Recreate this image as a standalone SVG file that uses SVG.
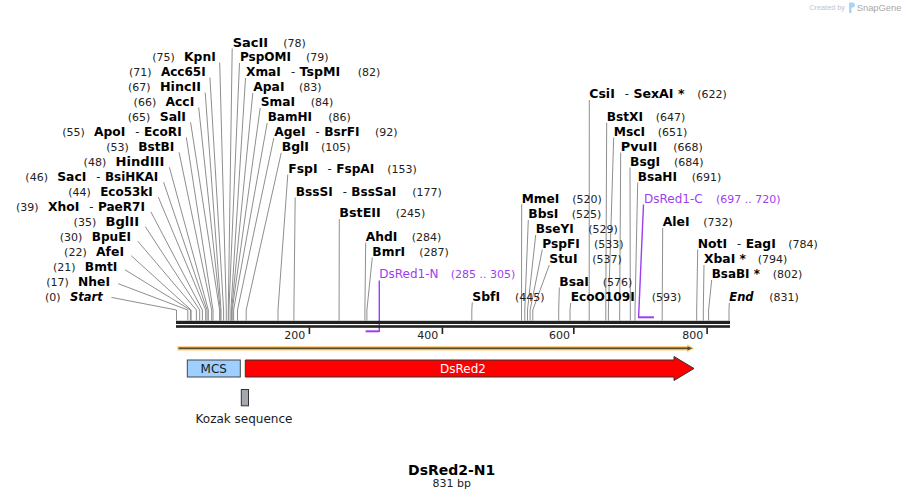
<svg xmlns="http://www.w3.org/2000/svg" width="906" height="500" viewBox="0 0 906 500">
<style>
text { font-family: "DejaVu Sans", Verdana, sans-serif; }
.b { font-weight: bold; font-size: 11.5px; fill: #000; }
.i { font-style: italic; }
.n { font-size: 11px; fill: #222; font-weight: normal; }
.dash { font-size: 11.5px; fill: #222; font-weight: normal; }
.p { fill: #9d3ef0; font-size: 12px; }
.pn { fill: #9d3ef0; font-size: 11px; }
.tk { font-size: 11px; fill: #222; }
.lbl { font-size: 12px; fill: #1a1a1a; }
.ln { fill: none; stroke: #8e8e8e; stroke-width: 1; }
.pl { fill: none; stroke: #9d3ef0; stroke-width: 1.4; }
.pbar { fill: none; stroke: #9d3ef0; stroke-width: 2; }
.bb { fill: #222; }
</style>

<g id="watermark">
<text x="809.3" y="9.8" style="font-family:'Liberation Sans',Arial,sans-serif;font-size:7.3px;fill:#c4c4c4">Created by</text>
<path d="M849,2.5 h3.3 a2.6,2.6 0 0 1 0,5.2 h-0.8 v5.3 h-2.5 z" fill="#a8d6f2"/>
<text x="856.7" y="10.6" style="font-family:'Liberation Sans',Arial,sans-serif;font-size:9.4px;fill:#a9a9a9">SnapGene</text>
</g>

<g id="connectors">
<polyline class="ln" points="111.4,297.4 176.5,310 176.5,320.5"/>
<polyline class="ln" points="118.2,283.7 187.8,310 187.8,320.5"/>
<polyline class="ln" points="125,269.8 190.4,310 190.4,320.5"/>
<polyline class="ln" points="131.2,255.7 191.1,310 191.1,320.5"/>
<polyline class="ln" points="137.8,241.2 196.4,310 196.4,320.5"/>
<polyline class="ln" points="145.3,226.6 199.7,310 199.7,320.5"/>
<polyline class="ln" points="150.9,211.9 202.4,310 202.4,320.5"/>
<polyline class="ln" points="158.3,197.1 205.7,310 205.7,320.5"/>
<polyline class="ln" points="163.6,182.2 207,310 207,320.5"/>
<polyline class="ln" points="169.4,167.3 208.3,310 208.3,320.5"/>
<polyline class="ln" points="179.1,152.4 211.7,310 211.7,320.5"/>
<polyline class="ln" points="186.3,137.4 213,310 213,320.5"/>
<polyline class="ln" points="190.6,122.4 219.6,310 219.6,320.5"/>
<polyline class="ln" points="198.7,107.5 220.3,310 220.3,320.5"/>
<polyline class="ln" points="205.2,92.5 221,310 221,320.5"/>
<polyline class="ln" points="209.9,77.5 223.6,310 223.6,320.5"/>
<polyline class="ln" points="219.7,62.5 226.3,310 226.3,320.5"/>

<polyline class="ln" points="232.2,48.5 228.3,310 228.3,320.5"/>
<polyline class="ln" points="239.5,63 228.9,310 228.9,320.5"/>
<polyline class="ln" points="245.5,78 230.9,310 230.9,320.5"/>
<polyline class="ln" points="252.8,93 231.6,310 231.6,320.5"/>
<polyline class="ln" points="260.2,108 232.2,310 232.2,320.5"/>
<polyline class="ln" points="267.2,123 233.6,310 233.6,320.5"/>
<polyline class="ln" points="273.8,138 237.5,310 237.5,320.5"/>
<polyline class="ln" points="281.2,153 246.2,310 246.2,320.5"/>
<polyline class="ln" points="287.8,174.5 278,310 278,320.5"/>
<polyline class="ln" points="295.2,197.5 293.9,310 293.9,320.5"/>
<polyline class="ln" points="339.3,219 339.1,310 339.1,320.5"/>
<polyline class="ln" points="365.7,242.5 364.9,310 364.9,320.5"/>
<polyline class="ln" points="372.3,257.5 366.9,310 366.9,320.5"/>
<polyline class="ln" points="472.3,302.5 471.8,310 471.8,320.5"/>

<polyline class="ln" points="589.3,100 589.2,310 589.2,320.5"/>
<polyline class="ln" points="606.7,122.5 605.8,310 605.8,320.5"/>
<polyline class="ln" points="613.7,137.5 608.4,310 608.4,320.5"/>
<polyline class="ln" points="620.7,152.5 619.7,310 619.7,320.5"/>
<polyline class="ln" points="630,167.5 630.3,310 630.3,320.5"/>
<polyline class="ln" points="637.7,182.5 635,310 635,320.5"/>
<polyline class="ln" points="521.7,204.3 521.5,310 521.5,320.5"/>
<polyline class="ln" points="528.3,220 524.8,310 524.8,320.5"/>
<polyline class="ln" points="535.7,235 527.5,310 527.5,320.5"/>
<polyline class="ln" points="542.3,249.5 530.1,310 530.1,320.5"/>
<polyline class="ln" points="549.3,265 532.8,310 532.8,320.5"/>
<polyline class="ln" points="559.3,287.5 558.7,310 558.7,320.5"/>
<polyline class="ln" points="570.7,303 570,310 570,320.5"/>
<polyline class="ln" points="662.7,228 662.2,310 662.2,320.5"/>
<polyline class="ln" points="697.7,249.5 696.7,310 696.7,320.5"/>
<polyline class="ln" points="704,265 703.3,310 703.3,320.5"/>
<polyline class="ln" points="711.7,280 708.6,310 708.6,320.5"/>
<polyline class="ln" points="729.3,303 729,310 729,320.5"/>

<polyline class="pl" points="379.3,280.5 379.3,332"/>
<polyline class="pl" points="643.5,204.5 638.6,317.3"/>
</g>

<g id="primer-dsred1-n">
<line class="pbar" x1="365.6" y1="331.3" x2="379.3" y2="331.3"/>
<text x="379.3" y="278.2" class="p">DsRed1-N<tspan class="pn" x="450.7">(285 .. 305)</tspan></text>
</g>
<g id="primer-dsred1-c">
<line class="pbar" x1="638" y1="317.3" x2="653.9" y2="317.3"/>
<text x="644" y="202.5" class="p">DsRed1-C<tspan class="pn" x="716">(697 .. 720)</tspan></text>
</g>

<g id="backbone">
<rect class="bb" x="176" y="320.8" width="554" height="3.2"/>
<rect class="bb" x="176" y="325.2" width="554" height="2.6"/>
<rect class="bb" x="308.6" y="327.5" width="1.6" height="6.5"/>
<rect class="bb" x="441.6" y="327.5" width="1.6" height="6.5"/>
<rect class="bb" x="573" y="327.5" width="1.6" height="6.5"/>
<rect class="bb" x="706.3" y="327.5" width="1.6" height="6.5"/>
<text class="tk" x="305.3" y="338.5" text-anchor="end">200</text>
<text class="tk" x="438.3" y="338.5" text-anchor="end">400</text>
<text class="tk" x="570" y="338.5" text-anchor="end">600</text>
<text class="tk" x="703.3" y="338.5" text-anchor="end">800</text>
</g>

<g id="site-start"><text x="102.7" y="301.2" text-anchor="end"><tspan class="n">(0)</tspan><tspan class="b i" dx="9.3">Start</tspan></text></g>
<g id="site-nhei"><text x="110" y="286.2" text-anchor="end"><tspan class="n">(17)</tspan><tspan class="b" dx="9.3" textLength="31.9" lengthAdjust="spacingAndGlyphs">NheI</tspan></text></g>
<g id="site-bmti"><text x="117.3" y="271.2" text-anchor="end"><tspan class="n">(21)</tspan><tspan class="b" dx="9.3" textLength="32.5" lengthAdjust="spacingAndGlyphs">BmtI</tspan></text></g>
<g id="site-afei"><text x="124" y="256.2" text-anchor="end"><tspan class="n">(22)</tspan><tspan class="b" dx="9.3" textLength="28" lengthAdjust="spacingAndGlyphs">AfeI</tspan></text></g>
<g id="site-bpuei"><text x="131" y="241.2" text-anchor="end"><tspan class="n">(30)</tspan><tspan class="b" dx="9.3" textLength="39.3" lengthAdjust="spacingAndGlyphs">BpuEI</tspan></text></g>
<g id="site-bglii"><text x="139" y="226.2" text-anchor="end"><tspan class="n">(35)</tspan><tspan class="b" dx="9.3" textLength="33.5" lengthAdjust="spacingAndGlyphs">BglII</tspan></text></g>
<g id="site-xhoi"><text x="145" y="211.2" text-anchor="end"><tspan class="n">(39)</tspan><tspan class="b" dx="9.3" textLength="31.3" lengthAdjust="spacingAndGlyphs">XhoI</tspan><tspan class="dash" dx="10">-</tspan><tspan class="b" dx="4.5" textLength="47.1" lengthAdjust="spacingAndGlyphs">PaeR7I</tspan></text></g>
<g id="site-eco53ki"><text x="152.7" y="196.2" text-anchor="end"><tspan class="n">(44)</tspan><tspan class="b" dx="9.3" textLength="52.5" lengthAdjust="spacingAndGlyphs">Eco53kI</tspan></text></g>
<g id="site-saci"><text x="158.3" y="181.2" text-anchor="end"><tspan class="n">(46)</tspan><tspan class="b" dx="9.3" textLength="29.1" lengthAdjust="spacingAndGlyphs">SacI</tspan><tspan class="dash" dx="10">-</tspan><tspan class="b" dx="4.5" textLength="53.3" lengthAdjust="spacingAndGlyphs">BsiHKAI</tspan></text></g>
<g id="site-hindiii"><text x="164.3" y="166.2" text-anchor="end"><tspan class="n">(48)</tspan><tspan class="b" dx="9.3" textLength="48.8" lengthAdjust="spacingAndGlyphs">HindIII</tspan></text></g>
<g id="site-bstbi"><text x="174.3" y="151.2" text-anchor="end"><tspan class="n">(53)</tspan><tspan class="b" dx="9.3" textLength="36.1" lengthAdjust="spacingAndGlyphs">BstBI</tspan></text></g>
<g id="site-apoi"><text x="181.7" y="136.2" text-anchor="end"><tspan class="n">(55)</tspan><tspan class="b" dx="9.3" textLength="31.3" lengthAdjust="spacingAndGlyphs">ApoI</tspan><tspan class="dash" dx="10">-</tspan><tspan class="b" dx="4.5" textLength="37.7" lengthAdjust="spacingAndGlyphs">EcoRI</tspan></text></g>
<g id="site-sali"><text x="186" y="121.2" text-anchor="end"><tspan class="n">(65)</tspan><tspan class="b" dx="9.3" textLength="26.3" lengthAdjust="spacingAndGlyphs">SalI</tspan></text></g>
<g id="site-acci"><text x="194.3" y="106.2" text-anchor="end"><tspan class="n">(66)</tspan><tspan class="b" dx="9.3" textLength="28.8" lengthAdjust="spacingAndGlyphs">AccI</tspan></text></g>
<g id="site-hincii"><text x="201" y="91.2" text-anchor="end"><tspan class="n">(67)</tspan><tspan class="b" dx="9.3" textLength="41.1" lengthAdjust="spacingAndGlyphs">HincII</tspan></text></g>
<g id="site-acc65i"><text x="205.7" y="76.2" text-anchor="end"><tspan class="n">(71)</tspan><tspan class="b" dx="9.3" textLength="44.8" lengthAdjust="spacingAndGlyphs">Acc65I</tspan></text></g>
<g id="site-kpni"><text x="215.7" y="61.2" text-anchor="end"><tspan class="n">(75)</tspan><tspan class="b" dx="9.3" textLength="31.6" lengthAdjust="spacingAndGlyphs">KpnI</tspan></text></g>

<g id="site-sacii"><text x="232.7" y="46.7"><tspan class="b" textLength="35.4" lengthAdjust="spacingAndGlyphs">SacII</tspan><tspan class="n" x="283.3">(78)</tspan></text></g>
<g id="site-pspomi"><text x="240" y="61.2"><tspan class="b" textLength="51" lengthAdjust="spacingAndGlyphs">PspOMI</tspan><tspan class="n" x="306">(79)</tspan></text></g>
<g id="site-xmai"><text x="246" y="76.2"><tspan class="b" textLength="34.9" lengthAdjust="spacingAndGlyphs">XmaI</tspan><tspan class="dash" dx="10">-</tspan><tspan class="b" dx="4.5" textLength="40.6" lengthAdjust="spacingAndGlyphs">TspMI</tspan><tspan class="n" x="357.7">(82)</tspan></text></g>
<g id="site-apai"><text x="253.3" y="91.2"><tspan class="b" textLength="31.2" lengthAdjust="spacingAndGlyphs">ApaI</tspan><tspan class="n" x="299">(83)</tspan></text></g>
<g id="site-smai"><text x="260.7" y="106.2"><tspan class="b" textLength="34.3" lengthAdjust="spacingAndGlyphs">SmaI</tspan><tspan class="n" x="310.7">(84)</tspan></text></g>
<g id="site-bamhi"><text x="267.7" y="121.2"><tspan class="b" textLength="44.4" lengthAdjust="spacingAndGlyphs">BamHI</tspan><tspan class="n" x="328.3">(86)</tspan></text></g>
<g id="site-agei"><text x="274.3" y="136.2"><tspan class="b" textLength="31.2" lengthAdjust="spacingAndGlyphs">AgeI</tspan><tspan class="dash" dx="10">-</tspan><tspan class="b" dx="4.5" textLength="35.4" lengthAdjust="spacingAndGlyphs">BsrFI</tspan><tspan class="n" x="375">(92)</tspan></text></g>
<g id="site-bgli"><text x="281.7" y="151.2"><tspan class="b" textLength="27.2" lengthAdjust="spacingAndGlyphs">BglI</tspan><tspan class="n" x="321">(105)</tspan></text></g>
<g id="site-fspi"><text x="288.3" y="172.7"><tspan class="b" textLength="29.2" lengthAdjust="spacingAndGlyphs">FspI</tspan><tspan class="dash" dx="10">-</tspan><tspan class="b" dx="4.5" textLength="38.1" lengthAdjust="spacingAndGlyphs">FspAI</tspan><tspan class="n" x="387.3">(153)</tspan></text></g>
<g id="site-bsssi"><text x="295.7" y="195.7"><tspan class="b" textLength="37" lengthAdjust="spacingAndGlyphs">BssSI</tspan><tspan class="dash" dx="10">-</tspan><tspan class="b" dx="4.5" textLength="44.8" lengthAdjust="spacingAndGlyphs">BssSaI</tspan><tspan class="n" x="412.3">(177)</tspan></text></g>
<g id="site-bsteii"><text x="339.3" y="217.2"><tspan class="b" textLength="41.5" lengthAdjust="spacingAndGlyphs">BstEII</tspan><tspan class="n" x="395.7">(245)</tspan></text></g>
<g id="site-ahdi"><text x="365.7" y="240.7"><tspan class="b" textLength="31.6" lengthAdjust="spacingAndGlyphs">AhdI</tspan><tspan class="n" x="411.7">(284)</tspan></text></g>
<g id="site-bmri"><text x="372.3" y="255.7"><tspan class="b" textLength="32.7" lengthAdjust="spacingAndGlyphs">BmrI</tspan><tspan class="n" x="419.3">(287)</tspan></text></g>
<g id="site-sbfi"><text x="472.3" y="300.7"><tspan class="b" textLength="27.8" lengthAdjust="spacingAndGlyphs">SbfI</tspan><tspan class="n" x="515">(445)</tspan></text></g>

<g id="site-csii"><text x="589.3" y="98.2"><tspan class="b" textLength="25.5" lengthAdjust="spacingAndGlyphs">CsiI</tspan><tspan class="dash" dx="10">-</tspan><tspan class="b" dx="4.5" textLength="51" lengthAdjust="spacingAndGlyphs">SexAI *</tspan><tspan class="n" x="697.3">(622)</tspan></text></g>
<g id="site-bstxi"><text x="606.7" y="120.7"><tspan class="b" textLength="36.3" lengthAdjust="spacingAndGlyphs">BstXI</tspan><tspan class="n" x="655.7">(647)</tspan></text></g>
<g id="site-msci"><text x="613.7" y="135.7"><tspan class="b" textLength="31.4" lengthAdjust="spacingAndGlyphs">MscI</tspan><tspan class="n" x="657.7">(651)</tspan></text></g>
<g id="site-pvuii"><text x="620.7" y="150.7"><tspan class="b" textLength="36.7" lengthAdjust="spacingAndGlyphs">PvuII</tspan><tspan class="n" x="673.3">(668)</tspan></text></g>
<g id="site-bsgi"><text x="630" y="165.7"><tspan class="b" textLength="30.1" lengthAdjust="spacingAndGlyphs">BsgI</tspan><tspan class="n" x="674">(684)</tspan></text></g>
<g id="site-bsahi"><text x="637.7" y="180.7"><tspan class="b" textLength="39.3" lengthAdjust="spacingAndGlyphs">BsaHI</tspan><tspan class="n" x="691.7">(691)</tspan></text></g>
<g id="site-mmei"><text x="521.7" y="202.5"><tspan class="b" textLength="37.5" lengthAdjust="spacingAndGlyphs">MmeI</tspan><tspan class="n" x="572.3">(520)</tspan></text></g>
<g id="site-bbsi"><text x="528.3" y="218.2"><tspan class="b" textLength="30.1" lengthAdjust="spacingAndGlyphs">BbsI</tspan><tspan class="n" x="571.7">(525)</tspan></text></g>
<g id="site-bseyi"><text x="535.7" y="233.2"><tspan class="b" textLength="38" lengthAdjust="spacingAndGlyphs">BseYI</tspan><tspan class="n" x="588.3">(529)</tspan></text></g>
<g id="site-pspfi"><text x="542.3" y="247.7"><tspan class="b" textLength="37.6" lengthAdjust="spacingAndGlyphs">PspFI</tspan><tspan class="n" x="594">(533)</tspan></text></g>
<g id="site-stui"><text x="549.3" y="263.2"><tspan class="b" textLength="28.2" lengthAdjust="spacingAndGlyphs">StuI</tspan><tspan class="n" x="592.3">(537)</tspan></text></g>
<g id="site-bsai"><text x="559.3" y="285.7"><tspan class="b" textLength="29.6" lengthAdjust="spacingAndGlyphs">BsaI</tspan><tspan class="n" x="602.7">(576)</tspan></text></g>
<g id="site-ecoo109i"><text x="570.7" y="301.2"><tspan class="b" textLength="64" lengthAdjust="spacingAndGlyphs">EcoO109I</tspan><tspan class="n" x="651.7">(593)</tspan></text></g>
<g id="site-alei"><text x="662.7" y="226.2"><tspan class="b" textLength="26.9" lengthAdjust="spacingAndGlyphs">AleI</tspan><tspan class="n" x="703.3">(732)</tspan></text></g>
<g id="site-noti"><text x="697.7" y="247.7"><tspan class="b" textLength="29.3" lengthAdjust="spacingAndGlyphs">NotI</tspan><tspan class="dash" dx="10">-</tspan><tspan class="b" dx="4.5" textLength="30.1" lengthAdjust="spacingAndGlyphs">EagI</tspan><tspan class="n" x="788.3">(784)</tspan></text></g>
<g id="site-xbai"><text x="704" y="263.2"><tspan class="b" textLength="42" lengthAdjust="spacingAndGlyphs">XbaI *</tspan><tspan class="n" x="757.7">(794)</tspan></text></g>
<g id="site-bsabi"><text x="711.7" y="278.2"><tspan class="b" textLength="48.3" lengthAdjust="spacingAndGlyphs">BsaBI *</tspan><tspan class="n" x="772.7">(802)</tspan></text></g>
<g id="site-end"><text x="729.3" y="301.2"><tspan class="b i">End</tspan><tspan class="n" x="769.3">(831)</tspan></text></g>

<g id="orf">
<rect x="177.3" y="346" width="510" height="4.6" fill="#fdd58a"/>
<polygon points="687,344.3 694.5,348.3 687,352.3" fill="#fdd58a"/>
<rect x="178.5" y="347.4" width="509.5" height="1.8" fill="#5a4a35"/>
<polygon points="687.5,346.2 692.5,348.3 687.5,350.4" fill="#5a4a35"/>
</g>

<g id="feature-mcs">
<rect x="187.3" y="360" width="53" height="17" fill="#9fcfff" stroke="#444" stroke-width="1"/>
<text class="lbl" x="213.8" y="372.6" text-anchor="middle">MCS</text>
</g>

<g id="feature-dsred2">
<path d="M245.3,360 H674 V356.5 L694,368.5 L674,380.5 V377 H245.3 Z" fill="#ff0000" stroke="#333" stroke-width="1"/>
<text class="lbl" x="463" y="372.6" text-anchor="middle" style="fill:#fff">DsRed2</text>
</g>

<g id="feature-kozak">
<rect x="241.3" y="389.5" width="7.2" height="16.3" fill="#a3a7ae" stroke="#333" stroke-width="1"/>
<text class="lbl" x="244" y="423.4" text-anchor="middle">Kozak sequence</text>
</g>

<g id="title">
<text x="451.7" y="474.8" text-anchor="middle" style="font-weight:bold;font-size:14px;fill:#000">DsRed2-N1</text>
<text x="451.7" y="487.3" text-anchor="middle" style="font-size:11px;fill:#222">831 bp</text>
</g>
</svg>
